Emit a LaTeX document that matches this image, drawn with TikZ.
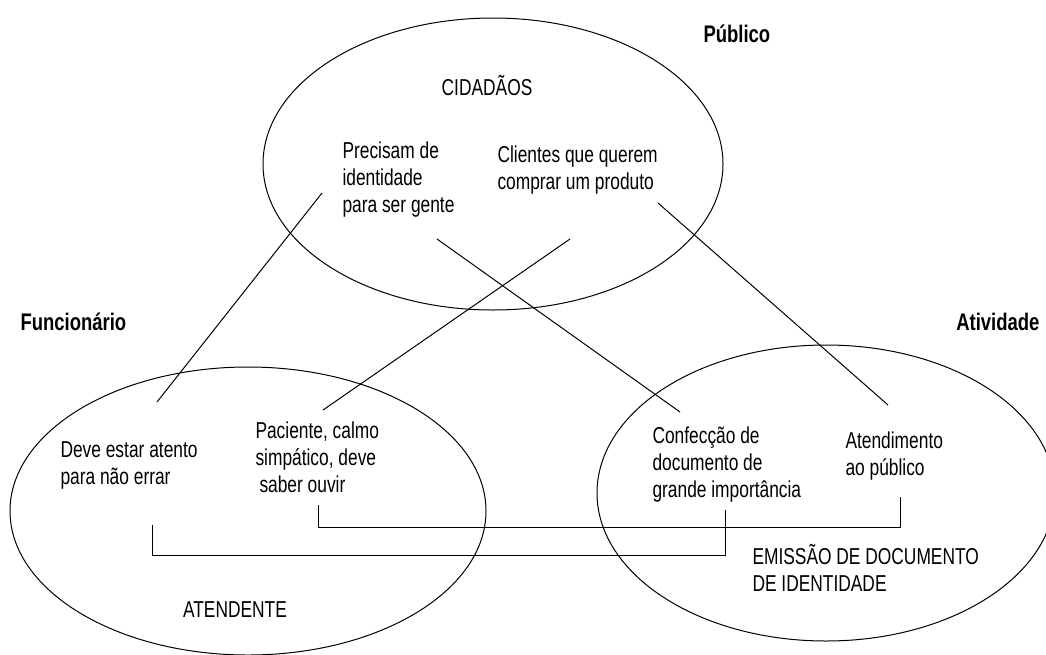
\documentclass[tikz,border=0pt]{standalone}
\usepackage{fontspec}
\setmainfont{Liberation Sans}[FakeStretch=0.755]
\newfontfamily\headfont{Liberation Sans}[FakeStretch=0.77]
\usetikzlibrary{shapes.geometric}

\begin{document}
\begin{tikzpicture}[x=1pt,y=-1pt,line width=1pt,
  oval/.style={draw,ellipse,inner sep=0pt},
  txt/.style={anchor=base west,inner sep=0pt,align=left,font=\fontsize{23}{27}\selectfont},
  head/.style={inner sep=0pt,font={\headfont\bfseries\fontsize{24}{28}\selectfont}}]
\useasboundingbox (0,0) rectangle (1046,654);
% the three groups
\node[oval,minimum width=460pt,minimum height=292pt](pub) at (493,164){};
\node[oval,minimum width=476pt,minimum height=288pt](func) at (248,511){};
\node[oval,minimum width=458pt,minimum height=296pt](ativ) at (826,493){};
\node[head,anchor=base west](tpub) at (703,42){Público};
\node[head,anchor=base west](tfunc) at (20,330){Funcionário};
\node[head,anchor=base east](tativ) at (1040,330){Atividade};
% texts (base = last line)
\node[txt,anchor=base](cid) at (487,95){CIDADÃOS};
\node[txt](prec) at (342,212){Precisam de\\identidade\\para ser gente};
\node[txt](cli) at (497,189){Clientes que querem\\comprar um produto};
\node[txt](deve) at (60,484){Deve estar atento\\para não errar};
\node[txt](pac) at (255,492){Paciente, calmo\\simpático, deve\\\hspace{4pt}saber ouvir};
\node[txt](conf) at (652,497){Confecção de\\documento de\\grande importância};
\node[txt](aten) at (845,475){Atendimento\\ao público};
\node[txt](emis) at (752,591){EMISSÃO DE DOCUMENTO\\DE IDENTIDADE};
\node[txt,anchor=base](atd) at (235,617){ATENDENTE};
% line ends
\coordinate (a1) at (322,193);
\coordinate (a2) at (157,402);
\coordinate (b1) at (437,239);
\coordinate (b2) at (680,412);
\coordinate (c1) at (570,239);
\coordinate (c2) at (323,410);
\coordinate (d1) at (658,203);
\coordinate (d2) at (888,405);
\coordinate (e1) at (152,525);
\coordinate (e2) at (725,510);
\coordinate (f1) at (318,505);
\coordinate (f2) at (900,497);
\draw (a1) -- (a2);
\draw (b1) -- (b2);
\draw (c1) -- (c2);
\draw (d1) -- (d2);
\draw (e1) -- ++(0,30) -| (e2);
\draw (f1) -- ++(0,22) -| (f2);
\end{tikzpicture}
\end{document}
